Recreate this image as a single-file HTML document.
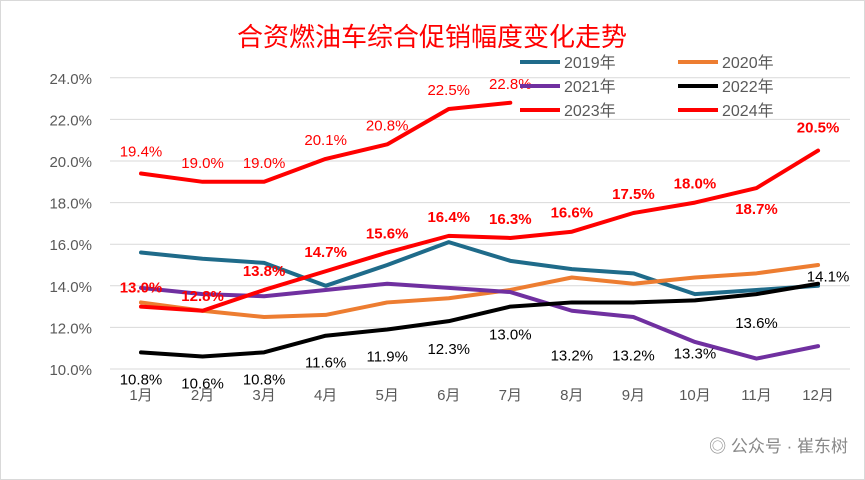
<!DOCTYPE html>
<html><head><meta charset="utf-8"><style>
body{margin:0;background:#fff;}
svg{display:block;font-family:"Liberation Sans","Noto Sans CJK SC",sans-serif;}
</style></head><body>
<svg id="c" width="865" height="480" viewBox="0 0 865 480">
<rect x="0.5" y="0.5" width="864" height="479" fill="#fff" stroke="#d9d9d9"/>
<text x="432" y="46" text-anchor="middle" font-size="26" fill="#ff0000">合资燃油车综合促销幅度变化走势</text>
<g id="grid"></g><g id="series"></g><g id="labels"></g><g id="legend"></g>
<text x="848" y="452" text-anchor="end" font-size="17" fill="#888">◎ 公众号 · 崔东树</text>
</svg>
<script>
const months=["1月","2月","3月","4月","5月","6月","7月","8月","9月","10月","11月","12月"];
const yTicks=[10,12,14,16,18,20,22,24];
const s2019=[15.6,15.3,15.1,14.0,15.0,16.1,15.2,14.8,14.6,13.6,13.8,14.0];
const s2020=[13.2,12.8,12.5,12.6,13.2,13.4,13.8,14.4,14.1,14.4,14.6,15.0];
const s2021=[13.9,13.6,13.5,13.8,14.1,13.9,13.7,12.8,12.5,11.3,10.5,11.1];
const s2022=[10.8,10.6,10.8,11.6,11.9,12.3,13.0,13.2,13.2,13.3,13.6,14.1];
const s2023=[19.4,19.0,19.0,20.1,20.8,22.5,22.8];
const s2024=[13.0,12.8,13.8,14.7,15.6,16.4,16.3,16.6,17.5,18.0,18.7,20.5];
const ns="http://www.w3.org/2000/svg";
const X=i=>141+i*61.55, Y=v=>369-(v-10)*20.8;
function mk(t,a,p){const e=document.createElementNS(ns,t);for(const k in a)e.setAttribute(k,a[k]);p.appendChild(e);return e;}
const g=document.getElementById('grid');
yTicks.forEach(v=>{
 const l=mk('line',{x1:110,x2:850,y1:Y(v),y2:Y(v),stroke:'#d9d9d9'},g);
 
 
 const t=mk('text',{x:92,y:Y(v)+6,'text-anchor':'end','font-size':15,fill:'#595959'},g);t.textContent=v.toFixed(1)+'%';
 
 
});
months.forEach((m,i)=>{
 const t=mk('text',{x:X(i),y:400,'text-anchor':'middle','font-size':15,fill:'#595959'},g);t.textContent=m;
 
 
});
const S=document.getElementById('series');
function line(d,col,name){
 const p=mk('polyline',{points:d.map((v,i)=>X(i)+','+Y(v)).join(' '),fill:'none',stroke:col,'stroke-width':4,'stroke-linejoin':'round','stroke-linecap':'round'},S);
 
 
}
line(s2019,'#1f6b8a','line-2019');
line(s2020,'#ed7d31','line-2020');
line(s2021,'#7030a0','line-2021');
line(s2022,'#000','line-2022');
line(s2023,'#ff0000','line-2023');
line(s2024,'#ff0000','line-2024');
const L=document.getElementById('labels');
function labels(d,col,bold,dys,dxs,name){
 d.forEach((v,i)=>{
  const t=mk('text',{x:X(i)+(dxs?dxs[i]:0),y:Y(v)+dys[i],'text-anchor':'middle','font-size':15,fill:col,'font-weight':bold?'bold':'normal'},L);
  t.textContent=v.toFixed(1)+'%';
  
  
 });
}
labels(s2022,'#000',false,[32,32,32,32,32,33,33,58,58,58,34,-2],[0,0,0,0,0,0,0,0,0,0,0,10],'label-2022');
labels(s2023,'#ff0000',false,[-17,-14,-14,-14,-14,-14,-14],null,'label-2023');
labels(s2024,'#ff0000',true,[-14,-10,-14,-14,-14,-14,-14,-14,-14,-14,26,-18],null,'label-2024');
const G=document.getElementById('legend');
[["2019年","#1f6b8a",520,62],["2020年","#ed7d31",678,62],["2021年","#7030a0",520,86],["2022年","#000",678,86],["2023年","#ff0000",520,110],["2024年","#ff0000",678,110]].forEach(e=>{
 const l=mk('line',{x1:e[2],x2:e[2]+40,y1:e[3],y2:e[3],stroke:e[1],'stroke-width':4},G);
 
 
 const t=mk('text',{x:e[2]+44,y:e[3]+6,'font-size':16,fill:'#595959'},G);t.textContent=e[0];
 
 
});
</script>
</body></html>
